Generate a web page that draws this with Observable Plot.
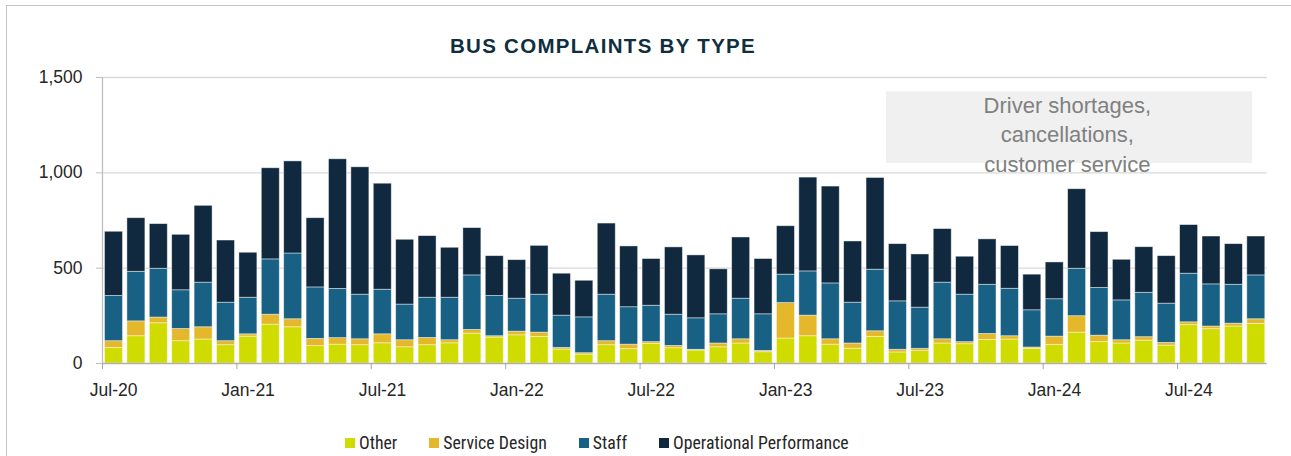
<!DOCTYPE html>
<html>
<head>
<meta charset="utf-8">
<script src="https://cdn.jsdelivr.net/npm/d3@7"></script>
<script src="https://cdn.jsdelivr.net/npm/@observablehq/plot@0.6"></script>
<style>
  html, body { margin: 0; padding: 0; overflow: hidden; background: #fff; width: 1291px; height: 456px; }
  #page { position: relative; width: 1291px; height: 456px; }
  #frame { position: absolute; left: 6px; top: 5px; width: 1400px; height: 600px; border: 1.5px solid #c4c4c4; box-sizing: border-box; }
  #title { position: absolute; left: 0; width: 1206px; top: 34px; text-align: center; font-family: "Liberation Sans", Arial, sans-serif; font-weight: bold; font-size: 20.5px; letter-spacing: 1.3px; color: #0f2f40; }
  #chart { position: absolute; left: 0; top: 62px; }
  #legend { position: absolute; left: 345px; top: 432px; display: flex; align-items: center; font-family: "Liberation Sans Narrow", "Roboto Condensed", "Liberation Sans", sans-serif; font-size: 17.8px; color: #262626; }
  .item { display: flex; align-items: center; margin-right: 32px; }
  .sw { width: 10px; height: 10px; margin-right: 4px; }
</style>
</head>
<body>
<div id="page">
  <div id="frame"></div>
  <div id="title">BUS COMPLAINTS BY TYPE</div>
  <div id="chart"></div>
  <div id="legend"></div>
</div>
<script>
const months = ["Jul-20","Aug-20","Sep-20","Oct-20","Nov-20","Dec-20",
  "Jan-21","Feb-21","Mar-21","Apr-21","May-21","Jun-21","Jul-21","Aug-21","Sep-21","Oct-21","Nov-21","Dec-21",
  "Jan-22","Feb-22","Mar-22","Apr-22","May-22","Jun-22","Jul-22","Aug-22","Sep-22","Oct-22","Nov-22","Dec-22",
  "Jan-23","Feb-23","Mar-23","Apr-23","May-23","Jun-23","Jul-23","Aug-23","Sep-23","Oct-23","Nov-23","Dec-23",
  "Jan-24","Feb-24","Mar-24","Apr-24","May-24","Jun-24","Jul-24","Aug-24","Sep-24","Oct-24"];

const seriesNames = ["Other", "Service Design", "Staff", "Operational Performance"];
const seriesColors = ["#d0dc00", "#e5b72b", "#186184", "#10293f"];

const other = [82,143,211,117,126,96, 141,204,190,91,99,96,106,85,96,106,157,136,
  148,140,73,47,96,75,103,80,68,85,105,59,
  131,143,99,78,140,58,65,105,101,124,126,77,
  98,162,112,105,120,94,201,180,194,208];
const serviceDesign = [35,78,30,64,64,21, 12,52,42,38,34,31,47,37,38,16,19,7,
  19,22,9,7,21,24,9,12,4,20,22,7,
  186,108,28,27,29,14,12,22,11,31,17,7,
  43,86,34,17,18,14,15,14,15,24];
const staff = [237,260,256,203,234,202, 192,290,345,270,258,234,234,187,211,223,286,211,
  173,199,169,188,244,196,191,164,165,153,213,192,
  149,232,293,214,323,254,216,297,249,258,249,195,
  196,249,250,209,233,206,255,221,204,230];
const operational = [337,281,234,291,403,326, 236,478,483,363,680,668,556,340,323,262,248,209,
  202,256,220,192,373,319,245,353,330,236,321,290,
  254,492,508,321,481,300,279,281,199,238,224,187,
  193,417,293,213,239,249,255,251,213,204];

const tickLabels = ["Jul-20","Jan-21","Jul-21","Jan-22","Jul-22","Jan-23","Jul-23","Jan-24","Jul-24"];
const yTicks = [0, 500, 1000, 1500];

const annotation = [{label: "Driver shortages,\ncancellations,\ncustomer service", x1: 35, x2: 51.35, y1: 1049, y2: 1425}];

const valuesBySeries = [other, serviceDesign, staff, operational];
const rows = [];
seriesNames.forEach((s, si) => {
  valuesBySeries[si].forEach((v, i) => rows.push({i, month: months[i], series: s, value: v}));
});

const tickPos = tickLabels.map(l => months.indexOf(l));

const chart = Plot.plot({
  width: 1291,
  height: 342,
  marginLeft: 102,
  marginRight: 24.3,
  marginTop: 15,
  marginBottom: 41,
  style: {fontFamily: "'Liberation Sans', Arial, sans-serif", fontSize: "17.5px", color: "#262626", background: "transparent"},
  x: {domain: [0, months.length]},
  y: {domain: [0, 1500]},
  color: {domain: seriesNames, range: seriesColors},
  marks: [
    Plot.gridY(yTicks.filter(d => d > 0), {stroke: "#d9d9d9", strokeOpacity: 1, strokeWidth: 1.3}),
    Plot.rect(annotation, {x1: "x1", x2: "x2", y1: "y1", y2: "y2", fill: "#f0f0f0"}),
    Plot.text(annotation, {x: d => (d.x1 + d.x2) / 2 - 0.1, y: "y2", text: "label", lineAnchor: "top", lineHeight: 1.34, fontSize: 22, fill: "#808080"}),
    Plot.rectY(rows, {x: "i", interval: 1, y: "value", fill: "series", insetLeft: 2.5, insetRight: 1.9, stroke: "#ffffff", strokeOpacity: 0.55, strokeWidth: 0.8}),
    Plot.ruleX([0], {stroke: "#bfbfbf", strokeWidth: 1.3}),
    Plot.ruleY([0], {stroke: "#b0b0b0", strokeWidth: 1.6}),
    Plot.axisY({ticks: yTicks, tickSize: 6, tickFormat: () => "", stroke: "#bfbfbf"}),
    Plot.axisY({ticks: yTicks, tickSize: 0, tickPadding: 20, tickFormat: d3.format(","), fill: "#262626"}),
    Plot.axisX({ticks: tickPos, tickSize: 6, tickFormat: () => "", stroke: "#a6a6a6"}),
    Plot.axisX({ticks: tickPos.map(p => p + 0.5), tickSize: 0, tickPadding: 20, tickFormat: v => months[Math.round(v - 0.5)], fill: "#262626"})
  ]
});
document.getElementById("chart").appendChild(chart);

const legend = document.getElementById("legend");
seriesNames.forEach((s, si) => {
  const item = document.createElement("div");
  item.className = "item";
  const sw = document.createElement("div");
  sw.className = "sw";
  sw.style.background = seriesColors[si];
  const t = document.createElement("span");
  t.textContent = s;
  item.appendChild(sw);
  item.appendChild(t);
  legend.appendChild(item);
});
</script>
</body>
</html>
